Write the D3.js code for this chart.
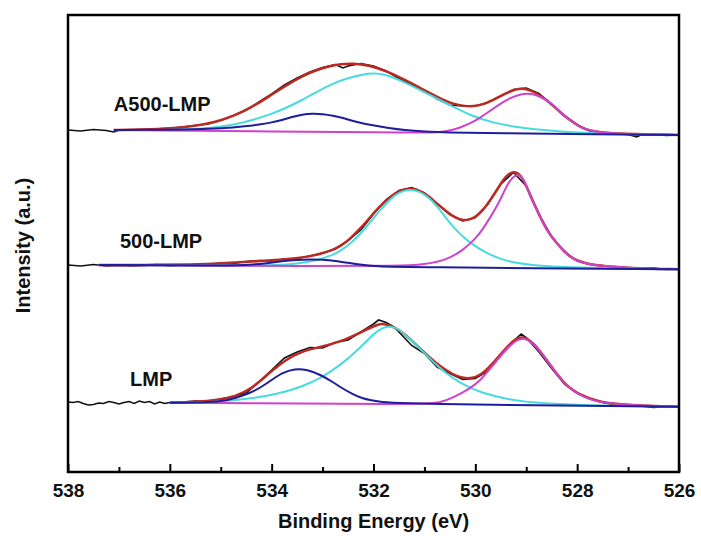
<!DOCTYPE html>
<html>
<head>
<meta charset="utf-8">
<script src="https://cdn.jsdelivr.net/npm/d3@7"></script>
<style>
  body { margin: 0; background: #fff; }
  text { font-family: Arial, "Liberation Sans", sans-serif; font-weight: bold; }
</style>
</head>
<body>
<div id="chart"></div>
<script>
// 1: DATA (binding energy in eV, intensity in a.u., spectra already stacked)
const xTickValues = [538, 536, 534, 532, 530, 528, 526];
const xMinorTicks = [537, 535, 533, 531, 529, 527];
const sampleNames = ["A500-LMP", "500-LMP", "LMP"];

// ---- A500-LMP
const a500Raw = [[538,342],[537.75,341],[537.5,342.5],[537.25,341.5],[537.1,340],[537,342],[536.75,342],[536.5,342.5],
  [536.25,342.5],[536,343.5],[535.75,345],[535.5,346.5],[535.25,348],[535,351.5],[534.75,356.5],[534.5,362],[534.25,370],
  [534,378],[533.75,387],[533.5,394],[533.25,400],[533,404.5],[532.75,407.5],[532.6,404],[532.5,406],[532.25,408.5],
  [532,406],[531.75,401],[531.5,393.5],[531.25,387],[531,381.5],[530.75,373],[530.5,367],[530.25,366],[530,366],
  [529.75,369.5],[529.5,376],[529.25,382.5],[529,384],[528.75,378.5],[528.5,367.5],[528.25,356.5],[528,347],
  [527.75,341],[527.5,339.5],[527.25,338],[527,337.5],[526.83,335],[526.75,337],[526.5,337.5],[526.25,336.5],[526,337]];
const a500Fit = [[537.1,342],[536.5,342.5],[536,343.5],[535.5,346],[535.1,350],[534.75,356],[534.4,364.5],[534.05,375.5],
  [533.74,386],[533.4,396],[533.1,402.5],[532.85,406],[532.64,408],[532.4,408.7],[532.1,407],[531.75,401],[531.4,392.5],
  [531.15,386],[530.9,379],[530.65,372.5],[530.44,368],[530.2,365.8],[530.04,365.5],[529.85,367.5],[529.65,372],
  [529.45,377.5],[529.26,382],[529.1,383.5],[528.99,383],[528.8,379],[528.6,372],[528.44,365],[528.28,357],[528.1,350.5],
  [527.95,345.3],[527.75,341],[527.5,339.3],[527.2,338.2],[526,337]];
const a500Blue = [[537.1,342],[536,342.3],[535.5,342.6],[535,343.5],[534.5,345.8],[534.2,347.8],[534,349.5],[533.8,352],
  [533.6,355],[533.4,357.5],[533.2,358.5],[533,358],[532.8,356.5],[532.6,354],[532.4,351],[532.2,348.5],[532,346.5],
  [531.7,344],[531.4,342],[531,340.5],[530.5,339.5],[530,339],[526,337]];
const a500Cyan = [[537.1,342],[536,341.8],[535.5,342.8],[535.1,344.5],[534.7,347.5],[534.4,351.5],[534,358],[533.74,363.5],
  [533.4,372],[533.1,380.5],[532.8,388.5],[532.5,394],[532.2,397.8],[532,398.7],[531.8,398.2],[531.4,390.3],[530.9,377],
  [530.44,365.3],[530.04,355.3],[529.65,349.3],[529.26,345.3],[528.6,341.3],[527.95,339.3],[527.5,338.3],[526,337]];
const a500Magenta = [[537.1,342],[531,339.2],[530.75,339.6],[530.5,341.3],[530.3,344.3],[530.1,348.5],[529.9,354.5],
  [529.7,361.5],[529.5,368.5],[529.3,374.5],[529.1,378],[528.95,378.7],[528.8,377],[528.6,372],[528.44,366],
  [528.28,357.5],[528.1,350],[527.95,345.3],[527.75,341.5],[527.5,339.3],[527.2,338],[526,337]];

// ---- 500-LMP
const s500Raw = [[538,207],[537.75,206],[537.5,207.5],[537.25,206],[537,206.5],[536.75,206],[536.5,206.5],[536.25,207.5],
  [536,206],[535.75,207],[535.5,207.5],[535.25,207],[535,209],[534.75,208.5],[534.5,210.5],[534.25,211.5],[534,211],
  [533.75,213],[533.5,213.5],[533.25,216],[533,219],[532.75,223],[532.5,231.5],[532.25,242],[532,258],[531.75,272.5],
  [531.5,281.5],[531.25,284.5],[531,279],[530.75,268.5],[530.5,257.5],[530.25,251],[530,254.5],[529.75,268],[529.5,288],
  [529.25,299.5],[529,286],[528.75,257.5],[528.5,235],[528.25,220],[528,211],[527.75,207.5],[527.5,206.5],[527.25,204.5],
  [527,204],[526.75,203.5],[526.5,204],[526.25,202.5],[526,203]];
const s500Fit = [[537.4,207],[536.5,207],[535.5,207.5],[535,208.5],[534.4,210.3],[533.74,212.7],[533.4,214.5],[533.1,217],
  [532.8,222],[532.64,226],[532.45,233.5],[532.24,244.5],[532.07,254.5],[531.9,264.5],[531.68,275],[531.5,281],
  [531.28,284],[531.1,282],[530.9,275.3],[530.75,268],[530.56,260.3],[530.4,254.5],[530.24,251.3],[530.1,252.5],
  [529.97,256],[529.83,263],[529.7,272.5],[529.55,284],[529.45,292.5],[529.35,298],[529.25,300.5],[529.15,299],
  [529.05,292],[528.93,278],[528.8,263],[528.67,249],[528.55,238.5],[528.4,228.7],[528.25,220.5],
  [528.14,215.3],[528,211.5],[527.8,208],[527.5,206],[527,204],[526,202.7]];
const s500Blue = [[537.4,207],[535,206.3],[534.4,207.2],[534.1,208.8],[533.8,210.8],[533.5,212.2],[533.25,212.7],
  [533,212.3],[532.75,211.2],[532.5,209.2],[532.24,207.2],[531.9,205.5],[531.5,204.9],[526,202.7]];
const s500Cyan = [[537.4,207],[535,206.3],[534,206.5],[533.5,208.3],[533.1,211.8],[532.8,217],[532.64,221.5],[532.45,228.5],
  [532.24,239],[532.07,249.5],[531.9,260],[531.68,272.7],[531.5,279.7],[531.3,282.8],[531.1,281],[530.9,274],[530.75,265.5],
  [530.56,253],[530.4,243],[530.24,235.3],[530.1,229.5],[529.97,224.7],[529.7,217],[529.45,212],[529.2,209],[528.9,207],
  [528.5,205.5],[528,204.5],[527,203.2],[526,202.7]];
const s500Magenta = [[537.4,207],[533,205.8],[531.5,206],[531,207.5],[530.56,212],[530.24,222],[530,233],[529.85,243],
  [529.7,255.3],[529.55,268],[529.45,279],[529.35,289],[529.28,294],[529.2,297],[529.12,297],[529.02,290],
  [528.93,276.5],[528.8,262.5],[528.67,249],[528.55,238],[528.4,228.7],[528.25,220],[528.14,215.3],[528,211],
  [527.8,208],[527.5,206],[527,204],[526,202.7]];

// ---- LMP
const lmpRaw = [[538,70],[537.9,69.5],[537.8,70.5],[537.7,68.5],[537.6,67],[537.5,67.5],[537.4,69],[537.3,68.5],[537.2,70.5],
  [537.1,69.5],[537,68],[536.9,69.5],[536.8,70.5],[536.7,68.5],[536.6,71],[536.5,69.5],[536.4,70.5],[536.3,68],[536.2,70],
  [536.1,68.5],[536,69.5],[535.75,70],[535.5,71],[535.25,70.5],[535,73],[534.75,75.5],[534.5,79],[534.25,90],[534,102],
  [533.75,114],[533.5,120],[533.25,124.5],[533,124],[532.75,129.5],[532.5,132],[532.25,140],[532,148],[531.9,152],
  [531.75,149.5],[531.6,145],[531.5,140],[531.25,126.5],[531,118.5],[530.75,105],[530.5,98.5],[530.25,92.5],[530,93.5],
  [529.75,101],[529.5,116.5],[529.25,131],[529.1,138],[529,134.5],[528.75,120],[528.5,103.5],[528.25,88],[528,79],
  [527.75,73],[527.5,69.5],[527.25,67],[527,66.5],[526.75,66],[526.5,64.5],[526.25,65.5],[526,65]];
const lmpFit = [[536,69.3],[535.5,70],[535.05,72],[534.72,75.5],[534.4,83],[534.07,98],[533.74,112],[533.42,120.5],
  [533.03,125.3],[532.64,130.3],[532.24,140],[531.9,148],[531.8,148.3],[531.6,145],[531.4,139],[531.07,122.5],
  [530.75,107.5],[530.43,97],[530.25,94],[530.1,93.5],[529.9,96],[529.65,108.7],[529.38,125.3],[529.2,133.5],[529.1,135],
  [529,134],[528.87,129],[528.75,122.5],[528.6,112],[528.34,93.7],[528.15,84],[528,78.7],[527.6,70.3],[527.2,67.5],
  [526,65.3]];
const lmpBlue = [[536,69.3],[535.3,69.5],[535,70.5],[534.7,74],[534.4,79.5],[534.2,85],[534,92],[533.8,99],[533.55,103.5],
  [533.3,102.5],[533.03,97],[532.8,90],[532.64,84.5],[532.4,77.5],[532.24,73.7],[531.9,70.3],[531.5,68],[526,65.3]];
const lmpCyan = [[536,69.3],[535.5,69.5],[535,70.5],[534.7,72],[534.4,73.7],[534,77],[533.74,80.3],[533.42,85],
  [533.03,94],[532.64,107],[532.24,125.3],[532.07,134.5],[531.9,142],[531.75,145.5],[531.6,145.5],[531.4,139],
  [531.07,122.5],[530.75,106],[530.43,93],[530.1,84],[529.9,79.8],[529.38,72.7],[528.87,69.3],[528,67],[527,65.8],
  [526,65.3]];
const lmpMagenta = [[536,69.3],[531,67.5],[530.7,69],[530.43,74.5],[530.1,83.7],[529.9,91.5],[529.65,107],[529.38,123.7],
  [529.2,131.5],[529.1,133.5],[529,133],[528.87,128.7],[528.75,122],[528.6,112],[528.34,93.7],[528.15,84],[528,78.7],
  [527.8,73.5],[527.6,70.3],[527.2,67.5],[526,65.3]];

// 2: LAYOUT
const W = 701, H = 536;
const plot = { left: 68, right: 679, top: 15, bottom: 472 };

const svg = d3.select("#chart").append("svg")
  .attr("width", W)
  .attr("height", H);

const x = d3.scaleLinear().domain([538, 526]).range([plot.left, plot.right]);
const y = d3.scaleLinear().domain([0, 457]).range([plot.bottom, plot.top]);

// fitted curves are smooth, measured data is drawn point to point
const smooth = d3.line().x(d => x(d[0])).y(d => y(d[1])).curve(d3.curveBasis);
const raw = d3.line().x(d => x(d[0])).y(d => y(d[1]));

const colors = { raw: "#111", fit: "#bb2a22", blue: "#1e1e9a", cyan: "#46dbe0", magenta: "#cc44cc" };

const samples = [
  { name: sampleNames[0], raw: a500Raw, fit: a500Fit, cyan: a500Cyan, magenta: a500Magenta, blue: a500Blue, labelE: 537.1, labelV: 361 },
  { name: sampleNames[1], raw: s500Raw, fit: s500Fit, cyan: s500Cyan, magenta: s500Magenta, blue: s500Blue, labelE: 536.98, labelV: 224 },
  { name: sampleNames[2], raw: lmpRaw, fit: lmpFit, cyan: lmpCyan, magenta: lmpMagenta, blue: lmpBlue, labelE: 536.78, labelV: 86 }
];

const g = svg.append("g");

samples.forEach(s => {
  g.append("path").datum(s.raw).attr("d", raw)
    .attr("fill", "none").attr("stroke", colors.raw).attr("stroke-width", 1.6);
  g.append("path").datum(s.fit).attr("d", smooth)
    .attr("fill", "none").attr("stroke", colors.fit).attr("stroke-width", 2.5);
  g.append("path").datum(s.cyan).attr("d", smooth)
    .attr("fill", "none").attr("stroke", colors.cyan).attr("stroke-width", 2);
  g.append("path").datum(s.magenta).attr("d", smooth)
    .attr("fill", "none").attr("stroke", colors.magenta).attr("stroke-width", 2);
  g.append("path").datum(s.blue).attr("d", smooth)
    .attr("fill", "none").attr("stroke", colors.blue).attr("stroke-width", 2);

  g.append("text")
    .attr("x", x(s.labelE))
    .attr("y", y(s.labelV))
    .attr("font-size", 20)
    .attr("fill", "#111")
    .text(s.name);
});

// 3: AXES
const xAxis = svg.append("g")
  .attr("transform", `translate(0,${plot.bottom})`)
  .call(d3.axisBottom(x).tickValues(xTickValues).tickSizeInner(-8).tickSizeOuter(0).tickPadding(12).tickFormat(d3.format("d")));
xAxis.select(".domain").remove();
xAxis.selectAll(".tick line").attr("stroke", "#000").attr("stroke-width", 2);
xAxis.selectAll(".tick text").attr("font-size", 19).attr("fill", "#111");

const xMinor = svg.append("g")
  .attr("transform", `translate(0,${plot.bottom})`)
  .call(d3.axisBottom(x).tickValues(xMinorTicks).tickSizeInner(-5).tickSizeOuter(0).tickFormat(""));
xMinor.select(".domain").remove();
xMinor.selectAll(".tick line").attr("stroke", "#000").attr("stroke-width", 2);

// frame
svg.append("rect")
  .attr("x", plot.left).attr("y", plot.top)
  .attr("width", plot.right - plot.left).attr("height", plot.bottom - plot.top)
  .attr("fill", "none").attr("stroke", "#000").attr("stroke-width", 2.5);

svg.append("text")
  .attr("x", (plot.left + plot.right) / 2)
  .attr("y", 528)
  .attr("text-anchor", "middle")
  .attr("font-size", 20)
  .attr("fill", "#111")
  .text("Binding Energy (eV)");

svg.append("text")
  .attr("transform", `translate(30,${(plot.top + plot.bottom) / 2 + 2}) rotate(-90)`)
  .attr("text-anchor", "middle")
  .attr("font-size", 20)
  .attr("fill", "#111")
  .text("Intensity (a.u.)");
</script>
</body>
</html>
